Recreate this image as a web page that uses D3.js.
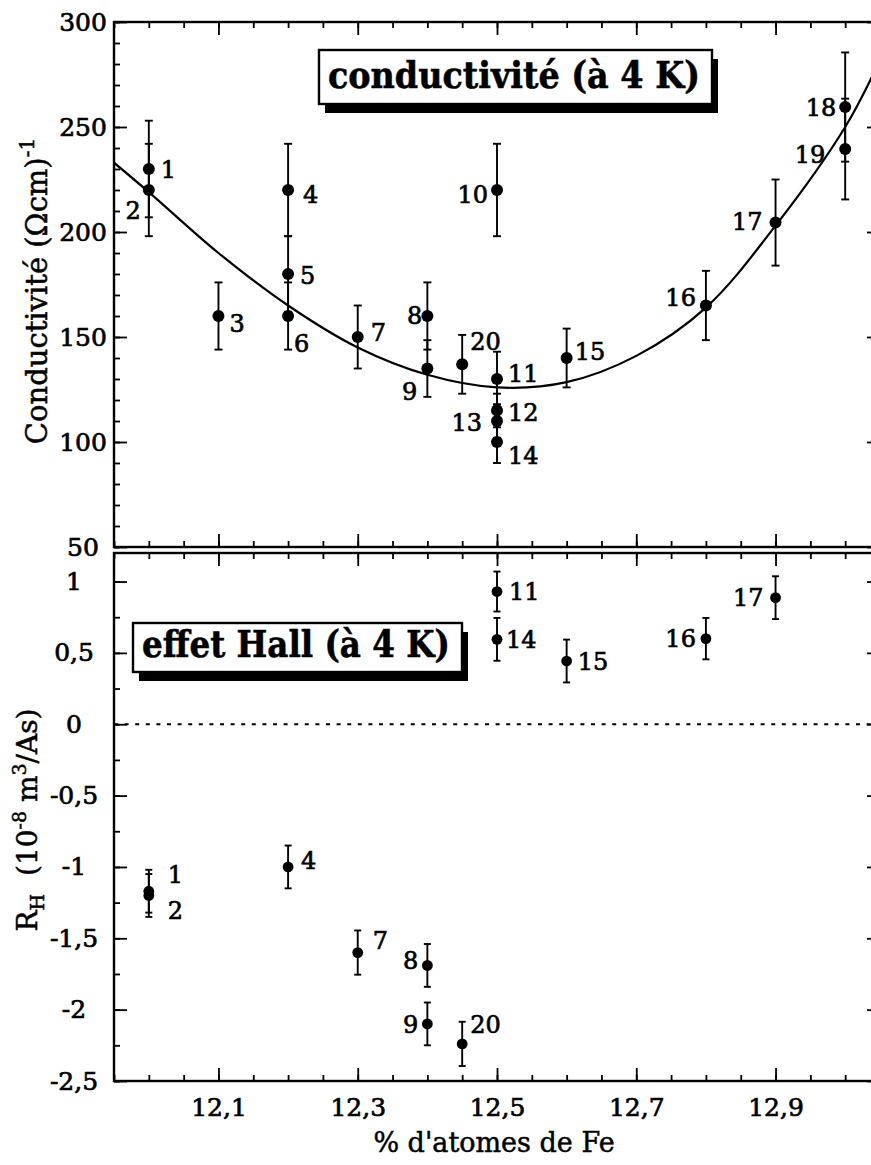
<!DOCTYPE html>
<html>
<head>
<meta charset="utf-8">
<script src="https://cdn.jsdelivr.net/npm/d3@7"></script>
<style>
body { margin: 0; background: #fff; }
svg { display: block; font-family: "DejaVu Serif", serif; }
</style>
</head>
<body>
<div id="chart"></div>
<script>
const width = 871;
const height = 1165;

// conductivité (à 4 K)
const condLabels = ["1", "2", "3", "4", "5", "6", "7", "8", "9", "10", "11", "12", "13", "14", "15", "16", "17", "18", "19", "20"];
const condX = [12.0, 12.0, 12.1, 12.2, 12.2, 12.2, 12.3, 12.4, 12.4, 12.5, 12.5, 12.5, 12.5, 12.5, 12.6, 12.8, 12.9, 13.0, 13.0, 12.45];
const condY = [230, 220, 160, 220, 180, 160, 150, 160, 135, 220, 130, 115, 110, 100, 140, 165, 204.5, 259.5, 239.5, 137];
const condErr = [23, 22, 16, 22, 18, 16, 15, 16, 13.5, 22, 13, 8, 8, 10, 14, 16.5, 20.5, 26, 24, 14];

// fitted curve
const fitX = [11.95, 12.0, 12.1, 12.2, 12.3, 12.4, 12.5, 12.6, 12.7, 12.8, 12.9, 13.0, 13.05];
const fitY = [233, 219, 190, 165, 145, 132, 126, 128.5, 141, 164, 203, 250, 282];

// effet Hall (à 4 K)
const hallLabels = ["1", "2", "4", "7", "8", "9", "20", "11", "14", "15", "16", "17"];
const hallX = [12.0, 12.0, 12.2, 12.3, 12.4, 12.4, 12.45, 12.5, 12.5, 12.6, 12.8, 12.9];
const hallY = [-1.17, -1.2, -1.0, -1.6, -1.69, -2.1, -2.24, 0.93, 0.595, 0.443, 0.6, 0.887];
const hallErr = [0.15, 0.15, 0.15, 0.155, 0.15, 0.15, 0.155, 0.14, 0.15, 0.15, 0.145, 0.15];

// ticks
const xMajor = [12.1, 12.3, 12.5, 12.7, 12.9];
const condMajor = [50, 100, 150, 200, 250, 300];
const hallMajor = [-2.5, -2, -1.5, -1, -0.5, 0, 0.5, 1];

// label placement next to each point: [dx, dy, anchor]
const condLabelPos = [
    [12, 0, "start"], [-8, 20, "end"], [11, 7, "start"], [15, 4, "start"], [12, 1, "start"],
    [6, 27, "start"], [13, -5, "start"], [-5, -1, "end"], [-10, 23, "end"], [-9, 4, "end"],
    [11, -6, "start"], [11, 2, "start"], [-15, 1, "end"], [11, 13, "start"], [8, -7, "start"],
    [-10, -8, "end"], [-13, -1, "end"], [-9, 0, "end"], [-20, 5, "end"], [8, -23, "start"]
];
const hallLabelPos = [
    [19, -17, "start"], [19, 15, "start"], [13, -7, "start"], [15, -12, "start"], [-9, -5, "end"],
    [-9, 0, "end"], [8, -20, "start"], [12, 0, "start"], [9, 0, "start"], [11, 0, "start"],
    [-10, 0, "end"], [-12, 0, "end"]
];

const fr = d3.formatLocale({decimal: ",", thousands: "\u00a0", grouping: [3], currency: ["", " €"], minus: "-"});
const fmtX = fr.format(".1f");
const fmtHall = d => Number.isInteger(d) ? fr.format("d")(d) : fr.format(".1f")(d);

const svg = d3.select("#chart").append("svg")
    .attr("width", width)
    .attr("height", height);

const x = d3.scaleLinear().domain([11.95, 13.05]).range([114, 880]);
const yCond = d3.scaleLinear().domain([50, 300]).range([547, 22]);
const yHall = d3.scaleLinear().domain([-2.5, 1.2]).range([1081, 553]);

const xMinor = d3.range(0, 23).map(i => +(11.95 + i * 0.05).toFixed(2));
const condMinor = d3.range(50, 301, 10);
const hallMinor = d3.range(-2.5, 1.21, 0.25);

// heavier strokes on text, the scan's font is dark
function ink(sel, w) {
    return sel.attr("fill", "#000").attr("stroke", "#000").attr("stroke-width", w);
}

function tickGroup(axisFn, scale, values, size, transform, fmt, pad) {
    const axis = axisFn(scale)
        .tickValues(values)
        .tickSizeInner(-size)
        .tickSizeOuter(0)
        .tickPadding(pad || 0)
        .tickFormat(fmt || (() => ""));
    const g = svg.append("g").attr("transform", transform).call(axis);
    g.select(".domain").remove();
    g.selectAll("line").attr("stroke", "#000").attr("stroke-width", 1.8);
    ink(g.selectAll("text"), 0.7)
        .attr("font-family", "DejaVu Serif")
        .attr("font-size", 25);
    return g;
}

function drawFrame(y, major, minor, fmt, labelPad) {
    const [yb, yt] = y.range();
    const [xl, xr] = x.range();

    svg.append("rect")
        .attr("x", xl).attr("y", yt)
        .attr("width", xr - xl).attr("height", yb - yt)
        .attr("fill", "none").attr("stroke", "#000").attr("stroke-width", 2.4);

    // horizontal sides
    tickGroup(d3.axisTop, x, xMinor, 6, `translate(0,${yt})`);
    tickGroup(d3.axisTop, x, xMajor, 13, `translate(0,${yt})`);
    tickGroup(d3.axisBottom, x, xMinor, 6, `translate(0,${yb})`);
    tickGroup(d3.axisBottom, x, xMajor, 13, `translate(0,${yb})`);

    // vertical sides
    tickGroup(d3.axisLeft, y, minor, 6, `translate(${xl},0)`);
    tickGroup(d3.axisLeft, y, major, 13, `translate(${xl},0)`, fmt, labelPad)
        .selectAll("text").attr("text-anchor", "middle");
    tickGroup(d3.axisRight, y, minor, 6, `translate(${xr},0)`);
    tickGroup(d3.axisRight, y, major, 13, `translate(${xr},0)`);
}

function drawPoints(y, xs, ys, errs, labels, pos, r, capW) {
    const data = xs.map((d, i) => ({x: d, y: ys[i], e: errs[i], label: labels[i], pos: pos[i]}));
    const g = svg.append("g");

    g.selectAll("line.bar").data(data).join("line")
        .attr("class", "bar")
        .attr("x1", d => x(d.x)).attr("x2", d => x(d.x))
        .attr("y1", d => y(d.y - d.e)).attr("y2", d => y(d.y + d.e))
        .attr("stroke", "#000").attr("stroke-width", 1.9);

    const caps = data.flatMap(d => [d.y - d.e, d.y + d.e].map(v => ({x: d.x, v: v})));
    g.selectAll("line.cap").data(caps).join("line")
        .attr("class", "cap")
        .attr("x1", d => x(d.x) - capW / 2).attr("x2", d => x(d.x) + capW / 2)
        .attr("y1", d => y(d.v)).attr("y2", d => y(d.v))
        .attr("stroke", "#000").attr("stroke-width", 1.9);

    g.selectAll("circle").data(data).join("circle")
        .attr("cx", d => x(d.x)).attr("cy", d => y(d.y))
        .attr("r", r).attr("fill", "#000");

    ink(g.selectAll("text").data(data).join("text"), 0.7)
        .attr("x", d => x(d.x) + d.pos[0])
        .attr("y", d => y(d.y) + d.pos[1])
        .attr("dy", "0.36em")
        .attr("text-anchor", d => d.pos[2])
        .attr("font-size", 24)
        .text(d => d.label);
}

function titleBox(bx, by, bw, bh, text, tx, ty, tlen) {
    svg.append("rect")
        .attr("x", bx + 6).attr("y", by + 9)
        .attr("width", bw).attr("height", bh)
        .attr("fill", "#000");
    svg.append("rect")
        .attr("x", bx).attr("y", by)
        .attr("width", bw).attr("height", bh)
        .attr("fill", "#fff").attr("stroke", "#000").attr("stroke-width", 2.4);
    ink(svg.append("text"), 0.6)
        .attr("x", tx).attr("y", ty)
        .attr("font-size", 37)
        .attr("font-weight", "bold")
        .attr("textLength", tlen)
        .attr("lengthAdjust", "spacingAndGlyphs")
        .text(text);
}

// ---- top panel: conductivity
drawFrame(yCond, condMajor, condMinor, d => d, 31);

svg.append("clipPath").attr("id", "clipTop")
    .append("rect")
    .attr("x", x.range()[0]).attr("y", yCond.range()[1])
    .attr("width", x.range()[1] - x.range()[0])
    .attr("height", yCond.range()[0] - yCond.range()[1]);

const fitLine = d3.line()
    .x((d, i) => x(fitX[i]))
    .y(d => yCond(d))
    .curve(d3.curveCatmullRom);

svg.append("path")
    .datum(fitY)
    .attr("d", fitLine)
    .attr("clip-path", "url(#clipTop)")
    .attr("fill", "none")
    .attr("stroke", "#000")
    .attr("stroke-width", 2.2);

drawPoints(yCond, condX, condY, condErr, condLabels, condLabelPos, 6, 8);
titleBox(319, 50, 393, 54, "conductivité (à 4 K)", 328, 88, 372);

// ---- bottom panel: Hall effect
drawFrame(yHall, hallMajor, hallMinor, fmtHall, 40);

svg.append("line")
    .attr("x1", x.range()[0]).attr("x2", x.range()[1])
    .attr("y1", yHall(0)).attr("y2", yHall(0))
    .attr("stroke", "#000")
    .attr("stroke-width", 2)
    .attr("stroke-dasharray", "4 6.6");

drawPoints(yHall, hallX, hallY, hallErr, hallLabels, hallLabelPos, 5.4, 7);
titleBox(133, 623, 329, 49, "effet Hall (à 4 K)", 142, 657, 308);

// x tick labels under the bottom panel
tickGroup(d3.axisBottom, x, xMajor, 0, `translate(0,${yHall.range()[0]})`, fmtX, 17);

// ---- axis titles
ink(svg.append("text"), 0.5)
    .attr("x", 494).attr("y", 1152)
    .attr("text-anchor", "middle")
    .attr("font-size", 27)
    .text("% d'atomes de Fe");

const condTitle = ink(svg.append("text"), 0.5)
    .attr("transform", "translate(47,291) rotate(-90)")
    .attr("text-anchor", "middle")
    .attr("font-size", 29);
condTitle.append("tspan").text("Conductivité (Ωcm)");
condTitle.append("tspan").attr("dy", -13).attr("font-size", 20).text("-1");

const hallTitle = ink(svg.append("text"), 0.5)
    .attr("transform", "translate(37,820) rotate(-90)")
    .attr("text-anchor", "middle")
    .attr("font-size", 28);
hallTitle.append("tspan").text("R");
hallTitle.append("tspan").attr("dy", 7).attr("font-size", 19).text("H");
hallTitle.append("tspan").attr("dy", -7).text("\u00a0\u00a0(10");
hallTitle.append("tspan").attr("dy", -11).attr("font-size", 19).text("-8");
hallTitle.append("tspan").attr("dy", 11).text(" m");
hallTitle.append("tspan").attr("dy", -11).attr("font-size", 19).text("3");
hallTitle.append("tspan").attr("dy", 11).text("/As)");
</script>
</body>
</html>
